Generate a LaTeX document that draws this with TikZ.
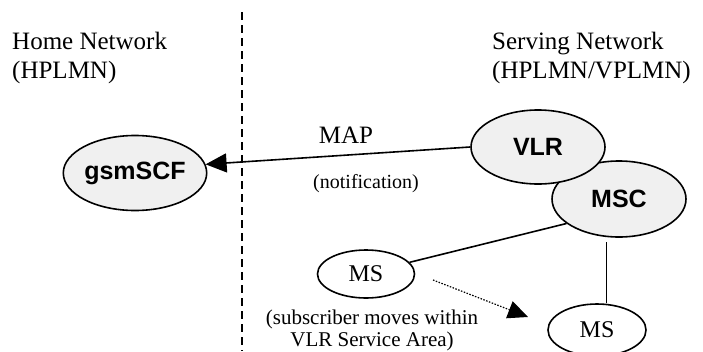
\documentclass[tikz,border=0pt]{standalone}
\usepackage{fontspec}
\setmainfont{Liberation Serif}
\setsansfont{Liberation Sans}
\usetikzlibrary{arrows.meta,shapes.geometric,calc}
\definecolor{nodegray}{HTML}{F0F0F0}
\begin{document}
\begin{tikzpicture}[x=1pt,y=-1pt,
  big/.style={font=\fontsize{25}{29}\selectfont},
  small/.style={font=\fontsize{21}{23}\selectfont},
  netnode/.style={ellipse,draw,line width=1.6pt,fill=nodegray,inner sep=0pt,
    minimum width=134pt,minimum height=75pt,
    font=\sffamily\bfseries\fontsize{25}{29}\selectfont},
  msnode/.style={ellipse,draw,line width=1.6pt,fill=white,inner sep=0pt,
    font=\fontsize{24}{28}\selectfont},
  link/.style={line width=1.6pt},
  bigtip/.style={-{Triangle[length=21pt,width=19pt]}},
  boundary/.style={line width=1.8pt,dash pattern=on 8pt off 5pt}]
\useasboundingbox (0,0) rectangle (703,351);
% boundary
\coordinate (btop) at (242,12);
\coordinate (bbot) at (242,351);
\draw[boundary] (btop) -- (bbot);
% headings
\node[big,anchor=base west,inner sep=0pt] (home1) at (12,49) {Home Network};
\node[big,anchor=base west,inner sep=0pt] (home2) at (12,78) {(HPLMN)};
\node[big,anchor=base west,inner sep=0pt] (serv1) at (492,49) {Serving Network};
\node[big,anchor=base west,inner sep=0pt] (serv2) at (492,78) {(HPLMN/VPLMN)};
% nodes
\node[netnode] (gsm) at (135,173) {gsmSCF};
\node[netnode,minimum height=76pt] (msc) at (619,199) {MSC};
\node[netnode,minimum height=74pt] (vlr) at (538,147) {VLR};
\node[msnode,minimum width=97pt,minimum height=48pt] (ms1) at (366,274) {MS};
\node[msnode,minimum width=98pt,minimum height=52pt] (ms2) at (597,330) {MS};
% connectors
\draw[link,bigtip] (vlr.west) -- (gsm.7);
\node[big,anchor=base,inner sep=0pt] (map) at (346,143) {MAP};
\node[font=\fontsize{20}{23}\selectfont,anchor=base,inner sep=0pt] (notif) at (366,188) {(notification)};
\draw[link] (msc.205) -- (ms1.15);
\coordinate (vtop) at (606.5,242);
\draw[link] (vtop) -- (vtop |- ms2.north);
\coordinate (mvs) at (433,280);
\coordinate (mve) at (528,317);
\draw[line width=1.2pt,dash pattern=on 1.5pt off 1.5pt,-{Triangle[length=20pt,width=18pt]}] (mvs) -- (mve);
\node[small,anchor=base,inner sep=0pt] (sub1) at (372,324) {(subscriber moves within};
\node[small,anchor=base,inner sep=0pt] (sub2) at (372,346) {VLR Service Area)};
\end{tikzpicture}
\end{document}
